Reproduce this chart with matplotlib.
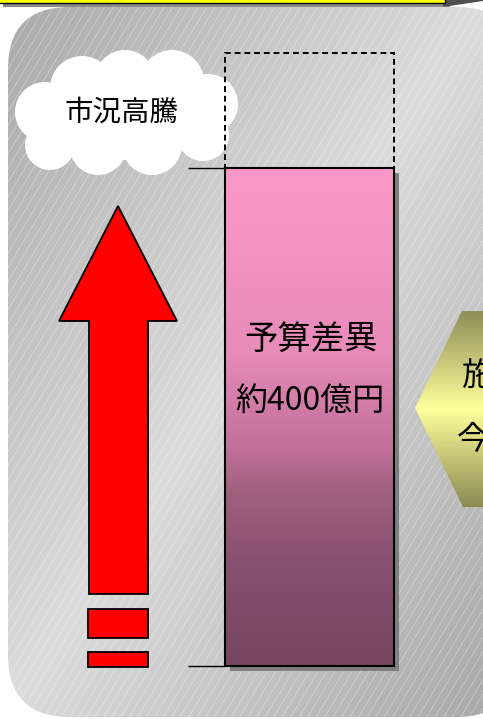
import numpy as np
import matplotlib
matplotlib.use("Agg")
import matplotlib.pyplot as plt
from matplotlib.patches import FancyBboxPatch, Polygon, Rectangle, Circle, Ellipse
from matplotlib.collections import LineCollection
from matplotlib.colors import LinearSegmentedColormap
import matplotlib.patheffects as pe

plt.rcParams['font.family'] = ['Noto Sans CJK JP', 'DejaVu Sans']

# --- data ---
gap_label = "予算差異"
gap_value = 400      # 億円
headroom = 92        # dashed box above the bar (estimated, same units)
cloud_label = "市況高騰"
side_labels = ["施", "今"]   # text cut off at the right edge

W, H = 483, 719
fig = plt.figure(figsize=(W / 100, H / 100), dpi=100)
ax = fig.add_axes([0, 0, 1, 1])

# rounded grey panel with diagonal gradient + thin white stripes
panel = FancyBboxPatch((8, 7), 510, 710, boxstyle="round,pad=0,rounding_size=62",
                       fc='none', ec='none')
ax.add_patch(panel)
yy, xx = np.mgrid[0:H, 0:W]
shade = 1 - np.abs(xx / W + yy / H - 1)
bg = (0xa8 + (0xdb - 0xa8) * shade) / 255
im = ax.imshow(bg, cmap='gray', vmin=0, vmax=1, extent=(0, W, H, 0), zorder=0)
im.set_clip_path(panel)
segs = [[(x0, H), (x0 + 0.6 * H, 0)] for x0 in np.arange(-450, 540, 8.5)]
lc = LineCollection(segs, colors='white', linewidths=0.6, alpha=0.35, zorder=1)
ax.add_collection(lc)
lc.set_clip_path(panel)

# yellow banner at the very top
ax.add_patch(Rectangle((3, 0), 447, 6.5, fc='#8c8c8c', ec='none', zorder=5))
ax.add_patch(Rectangle((-5, -5), 450, 7.5, fc='#ffff00', ec='black', lw=1, zorder=6))
ax.add_patch(Polygon([(443, -1), (483, -1), (483, 1), (446, 6.5), (443, 6.5)],
                     fc='#505050', ec='none', zorder=5))

# cloud
for (cx, cy, r) in [(45, 112, 30), (50, 145, 25), (82, 88, 32), (125, 80, 30),
                    (172, 82, 32), (208, 104, 30), (203, 135, 26), (152, 145, 30),
                    (98, 147, 28)]:
    ax.add_patch(Circle((cx, cy), r, fc='white', ec='none', zorder=3))
ax.add_patch(Ellipse((128, 115), 180, 90, fc='white', ec='none', zorder=3))
ax.text(121, 113, cloud_label, ha='center', va='center', fontsize=20.5, zorder=10)

# red arrow and the broken tail
arrow = [(118, 206), (59, 321), (89, 321), (89, 594), (148, 594), (148, 321), (177, 321)]
ax.add_patch(Polygon(arrow, fc='#ff0000', ec='black', lw=1.3, joinstyle='miter', zorder=4))
for (y0, y1) in [(609, 638), (652, 667)]:
    ax.add_patch(Rectangle((88, y0), 60, y1 - y0, fc='#ff0000', ec='black', lw=1.3, zorder=4))

# yellow hexagon on the right
hexp = Polygon([(415, 408), (462, 311), (530, 311), (560, 408), (530, 507), (463, 507)],
               fc='none', ec='none')
ax.add_patch(hexp)
hex_cmap = LinearSegmentedColormap.from_list('hx', ['#8e8e58', '#ffff9c', '#8a8a52'])
him = ax.imshow(np.linspace(0, 1, 256)[:, None], cmap=hex_cmap, extent=(410, W, 507, 311),
                aspect='auto', zorder=3)
him.set_clip_path(hexp)
ax.text(462, 377, side_labels[0], ha='left', va='center', fontsize=23, zorder=10)
ax.text(457, 440, side_labels[1], ha='left', va='center', fontsize=23, zorder=10)

ax.set_xlim(0, W)
ax.set_ylim(H, 0)
ax.set_aspect('auto')
ax.axis('off')

# budget gap bar on its own value axis
bx = fig.add_axes([225 / W, (H - 666) / H, 169 / W, (666 - 53) / H])
bx.set_xlim(-0.5, 0.5)
bx.set_ylim(0, gap_value + headroom)
bx.axis('off')
bars = bx.bar(0, gap_value, width=1, color='#fd99c9', ec='none', zorder=2, clip_on=False)
bars[0].set_path_effects([pe.SimplePatchShadow(offset=(3.6, -3.6), shadow_rgbFace='#7f7f7f',
                                               alpha=1), pe.Normal()])
bar_cmap = LinearSegmentedColormap.from_list(
    'bar', [(0, '#fd99c9'), (0.37, '#e78bb9'), (0.57, '#bf6f98'), (0.65, '#a2607f'),
            (0.79, '#885070'), (1, '#76455f')])
bim = bx.imshow(np.linspace(0, 1, 256)[:, None], cmap=bar_cmap,
                extent=(-0.5, 0.5, 0, gap_value), aspect='auto', zorder=3)
bim.set_clip_path(bars[0])
bx.bar(0, gap_value, width=1, fill=False, ec='black', lw=1.5, zorder=4, clip_on=False)
bx.bar(0, headroom, bottom=gap_value, width=1, fill=False, ec='black', lw=1.4,
       ls=(0, (3, 2)), zorder=4, clip_on=False)
bx.hlines([0, gap_value], -0.5 - 37 / 169, -0.5, color='black', lw=1, clip_on=False)
bx.set_xlim(-0.5, 0.5)
bx.set_ylim(0, gap_value + headroom)
bx.text(0.01, gap_value * 0.655, gap_label, ha='center', va='center', fontsize=24, zorder=10)
bx.text(0, gap_value * 0.532, f"約{gap_value}億円", ha='center', va='center', fontsize=23,
        zorder=10)

fig.savefig("out.png", dpi=100)
